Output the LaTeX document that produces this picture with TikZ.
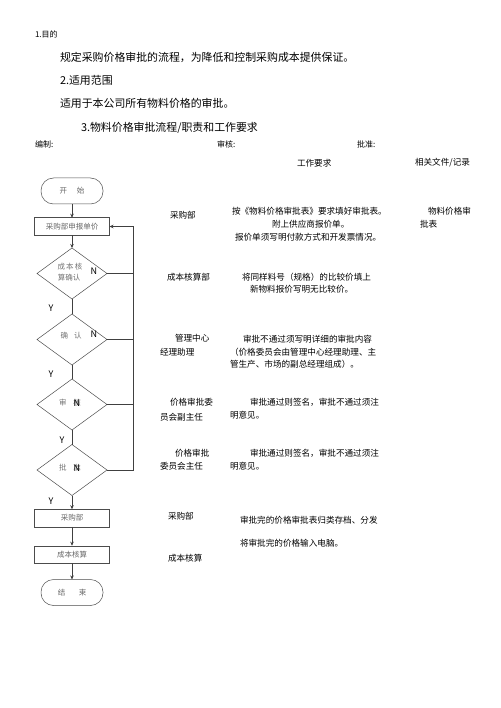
\documentclass[tikz,border=0pt]{standalone}
\usepackage{fontspec}
\setmainfont{Noto Sans CJK SC}
\usetikzlibrary{shapes.geometric,arrows.meta}
\begin{document}
\begin{tikzpicture}[x=1pt,y=-1pt,
  every node/.style={inner sep=0pt, outer sep=0pt},
  txt/.style={anchor=west, font=\fontsize{8.6}{10}\selectfont},
  small/.style={anchor=west, font=\fontsize{8}{10}\selectfont},
  big/.style={anchor=west, font=\fontsize{10.9}{12}\selectfont},
  term/.style={draw=black!70, line width=0.5pt, rounded corners=12.5pt, minimum width=62pt, minimum height=26pt, font=\fontsize{7.5}{9}\selectfont, text=black!60},
  procbox/.style={draw=black!70, line width=0.5pt, minimum width=75pt, minimum height=17.5pt, font=\fontsize{7.5}{9}\selectfont, text=black!60},
  dia/.style={draw=black!70, line width=0.5pt, diamond, minimum width=70pt, minimum height=51pt},
  flowtxt/.style={font=\fontsize{7.5}{9}\selectfont, text=black!55},
  ny/.style={font=\fontsize{9}{10}\selectfont},
  line/.style={draw=black!75, line width=0.6pt},
  arr/.style={line, -{Stealth[length=4pt,width=3.5pt]}}
]
\useasboundingbox (0,0) rectangle (500,708);

% header texts
\node[small] (h1) at (35,34) {1.目的};
\node[big] (h2) at (60,57) {规定采购价格审批的流程，为降低和控制采购成本提供保证。};
\node[big] (h3) at (60,80) {2.适用范围};
\node[big] (h4) at (60,103) {适用于本公司所有物料价格的审批。};
\node[big] (h5) at (81,128) {3.物料价格审批流程/职责和工作要求};
\node[small] (bz) at (35,144) {编制:};
\node[small] (sh) at (217,144) {审核:};
\node[small] (pz) at (357,144) {批准:};
\node[txt] (gzyq) at (297,163) {工作要求};
\node[txt] (xgwj) at (415,163) {相关文件/记录};

% flowchart
\node[term] (start) at (72,191) {开\hspace{1.3em}始};
\node[procbox] (b1) at (72,226.5) {采购部申报单价};
\node[dia] (d1) at (72,273.5) {};
\node[dia] (d2) at (72,339.5) {};
\node[dia] (d3) at (72,404.5) {};
\node[dia] (d4) at (72,470) {};
\node[procbox] (b2) at (72,518) {采购部};
\node[procbox] (b3) at (72,554.5) {成本核算};
\node[term] (end) at (72,592.5) {结\hspace{1.8em}束};

\node[flowtxt] (t1a) at (70,267) {成\,本\,核};
\node[flowtxt] (t1b) at (69,278) {算确认};
\node[flowtxt] (t2) at (71,336) {确\hspace{0.8em}认};
\node[flowtxt] (t3) at (70,403) {审\hspace{0.9em}核};
\node[flowtxt] (t4) at (70,468) {批\hspace{0.9em}准};

\node[ny] (n1) at (94,271) {N};
\node[ny] (n2) at (94,334) {N};
\node[ny] (n3) at (77,403) {N};
\node[ny] (n4) at (77,468) {N};
\node[ny] (y1) at (51,308) {Y};
\node[ny] (y2) at (51,374) {Y};
\node[ny] (y3) at (62,440) {Y};
\node[ny] (y4) at (51,501) {Y};

\coordinate (fbtop) at (133,226.5);
\draw[arr] (start.south) -- (b1.north);
\draw[arr] (b1.south) -- (d1.north);
\draw[line] (d1.south) -- (d2.north);
\draw[line] (d2.south) -- (d3.north);
\draw[line] (d3.south) -- (d4.north);
\draw[arr] (d4.south) -- (b2.north);
\draw[arr] (b2.south) -- (b3.north);
\draw[arr] (b3.south) -- (end.north);
\draw[arr] (d4.east) -- (d4.east -| fbtop) -- (fbtop) -- (b1.east);
\draw[line] (d1.east) -- (d1.east -| fbtop);
\draw[line] (d2.east) -- (d2.east -| fbtop);
\draw[line] (d3.east) -- (d3.east -| fbtop);

% right-side texts
\node[txt] (r1) at (170,215) {采购部};
\node[txt] (w1a) at (232,211) {按《物料价格审批表》要求填好审批表。};
\node[txt] (w1b) at (272,224) {附上供应商报价单。};
\node[txt] (w1c) at (235,237) {报价单须写明付款方式和开发票情况。};
\node[txt] (f1a) at (428,211) {物料价格审};
\node[txt] (f1b) at (420,224) {批表};

\node[txt] (r2) at (167,277) {成本核算部};
\node[txt] (w2a) at (242,277) {将同样料号（规格）的比较价填上};
\node[txt] (w2b) at (250,289) {新物料报价写明无比较价。};

\node[txt] (r3a) at (175,338) {管理中心};
\node[txt] (r3b) at (160,352) {经理助理};
\node[txt] (w3a) at (243,339) {审批不通过须写明详细的审批内容};
\node[txt] (w3b) at (230,352) {（价格委员会由管理中心经理助理、主};
\node[txt] (w3c) at (230,364) {管生产、市场的副总经理组成）。};

\node[txt] (r4a) at (170,402) {价格审批委};
\node[txt] (r4b) at (160,417) {员会副主任};
\node[txt] (w4a) at (250,402) {审批通过则签名，审批不通过须注};
\node[txt] (w4b) at (230,415) {明意见。};

\node[txt] (r5a) at (175,453) {价格审批};
\node[txt] (r5b) at (160,466) {委员会主任};
\node[txt] (w5a) at (250,453) {审批通过则签名，审批不通过须注};
\node[txt] (w5b) at (230,466) {明意见。};

\node[txt] (r6) at (168,516) {采购部};
\node[txt] (w6) at (240,520) {审批完的价格审批表归类存档、分发};
\node[txt] (w7) at (240,543) {将审批完的价格输入电脑。};
\node[txt] (r7) at (168,558) {成本核算};
\end{tikzpicture}
\end{document}
